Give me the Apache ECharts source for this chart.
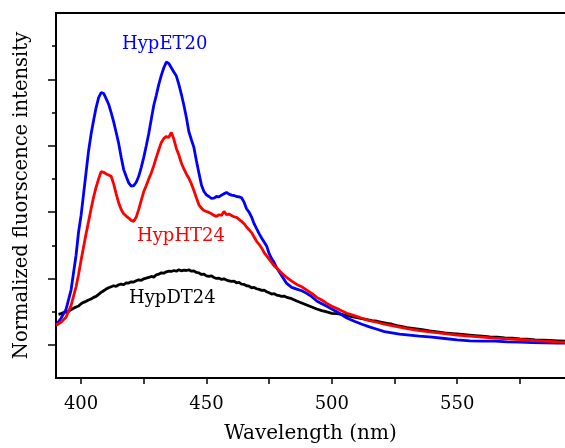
<!DOCTYPE html>
<html>
<head>
<meta charset="utf-8">
<script src="https://cdn.jsdelivr.net/npm/echarts@6/dist/echarts.min.js"></script>
<style>
html,body{margin:0;padding:0;background:#fff;}
#c{width:565px;height:448px;}
</style>
</head>
<body>
<div id="c"></div>
<script>
// ---- data ----
var blueWl = [390,392,394,396,398,399,400,401,402,403,404,405,406,407,408,409,410,411,412,413,414,415,416,417,418,419,420,421,422,423,424,425,426,427,428,429,430,431,432,433,434,435,436,437,438,439,440,441,442,443,444,445,446,447,448,449,450,451,452,453,454,455,456,457,458,459,460,461,462,463,464,465,466,467,468,469,470,471,472,473,474,475,476,477,478,479,480,482,484,486,488,490,492,494,496,498,500,503,506,509,512,515,518,521,524,527,530,535,540,545,550,555,560,565,570,575,580,585,590,593];
var blueVal = [0.059,0.080,0.107,0.165,0.270,0.340,0.390,0.455,0.520,0.585,0.635,0.677,0.715,0.745,0.760,0.758,0.742,0.725,0.700,0.672,0.640,0.607,0.565,0.528,0.507,0.488,0.478,0.480,0.490,0.508,0.535,0.565,0.600,0.637,0.680,0.722,0.752,0.785,0.812,0.835,0.852,0.848,0.835,0.822,0.810,0.785,0.755,0.722,0.685,0.642,0.618,0.595,0.555,0.518,0.482,0.462,0.452,0.447,0.441,0.442,0.447,0.446,0.451,0.455,0.459,0.454,0.451,0.450,0.447,0.446,0.443,0.430,0.410,0.400,0.385,0.365,0.350,0.335,0.322,0.310,0.298,0.275,0.260,0.248,0.232,0.220,0.208,0.185,0.173,0.168,0.163,0.155,0.145,0.132,0.124,0.116,0.108,0.095,0.081,0.071,0.062,0.054,0.047,0.040,0.036,0.032,0.030,0.026,0.023,0.019,0.015,0.012,0.011,0.011,0.009,0.008,0.007,0.006,0.005,0.005];

var redWl = blueWl;
var redVal = [0.059,0.068,0.083,0.118,0.175,0.212,0.255,0.295,0.335,0.372,0.410,0.445,0.475,0.500,0.522,0.520,0.515,0.512,0.508,0.485,0.455,0.428,0.408,0.395,0.388,0.382,0.375,0.372,0.385,0.408,0.435,0.462,0.480,0.500,0.518,0.540,0.565,0.588,0.610,0.622,0.628,0.625,0.640,0.620,0.592,0.572,0.548,0.530,0.515,0.502,0.485,0.465,0.443,0.422,0.412,0.405,0.402,0.399,0.395,0.390,0.387,0.392,0.390,0.402,0.392,0.394,0.390,0.386,0.384,0.378,0.372,0.365,0.355,0.347,0.338,0.325,0.312,0.303,0.292,0.278,0.268,0.258,0.248,0.238,0.232,0.224,0.216,0.203,0.192,0.182,0.175,0.165,0.155,0.143,0.135,0.125,0.116,0.106,0.095,0.088,0.080,0.073,0.068,0.062,0.058,0.053,0.049,0.043,0.038,0.034,0.029,0.026,0.023,0.020,0.018,0.016,0.013,0.011,0.009,0.008];

var blackWl = [391,392,393,394,395,396,397,398,399,400,401,402,403,404,405,406,407,408,409,410,411,412,413,414,415,416,417,418,419,420,421,422,423,424,425,426,427,428,429,430,431,432,433,434,435,436,437,438,439,440,441,442,443,444,445,446,447,448,449,450,451,452,453,454,455,456,457,458,459,460,461,462,463,464,465,466,467,468,469,470,471,472,473,474,475,476,477,478,479,480,481,482,484,486,488,490,492,494,496,498,500,502,504,506,508,510,512,514,516,518,520,522,524,526,528,530,533,536,539,542,545,548,551,554,557,560,563,566,569,572,575,578,581,584,587,590,593];
var blackVal = [0.092,0.094,0.097,0.099,0.101,0.106,0.110,0.114,0.117,0.124,0.128,0.131,0.135,0.138,0.143,0.146,0.152,0.158,0.163,0.168,0.172,0.175,0.178,0.176,0.181,0.183,0.181,0.187,0.186,0.190,0.189,0.193,0.196,0.194,0.199,0.201,0.203,0.206,0.204,0.211,0.213,0.217,0.216,0.220,0.222,0.221,0.224,0.222,0.226,0.223,0.225,0.224,0.226,0.222,0.223,0.218,0.217,0.212,0.213,0.208,0.206,0.208,0.203,0.200,0.201,0.197,0.199,0.195,0.193,0.191,0.192,0.187,0.188,0.183,0.182,0.178,0.177,0.172,0.173,0.169,0.167,0.164,0.165,0.160,0.157,0.153,0.154,0.150,0.148,0.146,0.147,0.143,0.139,0.132,0.126,0.120,0.114,0.108,0.103,0.099,0.095,0.094,0.092,0.088,0.085,0.082,0.079,0.076,0.073,0.071,0.068,0.065,0.062,0.058,0.055,0.052,0.049,0.046,0.042,0.039,0.036,0.034,0.032,0.030,0.028,0.026,0.024,0.023,0.021,0.020,0.018,0.017,0.015,0.014,0.013,0.012,0.011];

var xMajorTicks = [400,425,450,475,500,525,550,575];
var xLabels = [400,450,500,550];
var yMajorTicks = [0,0.2,0.4,0.6,0.8];
var yMinorTicks = [0.1,0.3,0.5,0.7,0.9];
var seriesNames = ['HypDT24','HypET20','HypHT24'];

function pairs(w, v){ return w.map(function(x,i){ return [x, v[i]]; }); }

var FONT = 'DejaVu Serif';
var chart = echarts.init(document.getElementById('c'), null, {renderer:'canvas'});
var axisLineStyle = {color:'#000', width:2};
chart.setOption({
  animation:false,
  backgroundColor:'#fff',
  grid:{left:56, top:13, right:0, bottom:70, containLabel:false, outerBoundsMode:'none'},
  xAxis:[{
    type:'value', min:390, max:593, position:'bottom',
    axisLine:{show:true, onZero:false, lineStyle:axisLineStyle},
    axisTick:{show:true, inside:false, length:6, lineStyle:{color:'#000', width:1.5}, customValues:xMajorTicks},
    axisLabel:{show:true, margin:17, fontFamily:FONT, fontSize:18, color:'#000', customValues:xLabels},
    splitLine:{show:false},
    name:'Wavelength (nm)', nameLocation:'middle', nameGap:46,
    nameTextStyle:{fontFamily:FONT, fontSize:20, color:'#000'}
  },{
    type:'value', min:390, max:593, position:'top',
    axisLine:{show:true, onZero:false, lineStyle:axisLineStyle},
    axisTick:{show:false}, axisLabel:{show:false}, splitLine:{show:false}
  }],
  yAxis:[{
    type:'value', min:-0.1, max:1.0, position:'left',
    axisLine:{show:true, onZero:false, lineStyle:axisLineStyle},
    axisTick:{show:true, inside:false, length:8, lineStyle:{color:'#000', width:1.5}, customValues:yMajorTicks},
    axisLabel:{show:false}, splitLine:{show:false},
    name:'Normalized fluorscence intensity', nameLocation:'middle', nameGap:24, nameRotate:90,
    nameTextStyle:{fontFamily:FONT, fontSize:19.5, color:'#000'}
  },{
    type:'value', min:-0.1, max:1.0, position:'left',
    axisLine:{show:false},
    axisTick:{show:true, inside:false, length:4, lineStyle:{color:'#000', width:1.5}, customValues:yMinorTicks},
    axisLabel:{show:false}, splitLine:{show:false}
  }],
  series:[
    {name:seriesNames[0], type:'line', data:pairs(blackWl, blackVal), showSymbol:false, symbol:'none', lineStyle:{color:'#000000', width:2.8}, itemStyle:{color:'#000'}, z:2},
    {name:seriesNames[1], type:'line', data:pairs(blueWl, blueVal), showSymbol:false, symbol:'none', lineStyle:{color:'#0000ff', width:2.8}, itemStyle:{color:'#00f'}, z:3},
    {name:seriesNames[2], type:'line', data:pairs(redWl, redVal), showSymbol:false, symbol:'none', lineStyle:{color:'#ff0000', width:2.8}, itemStyle:{color:'#f00'}, z:4}
  ],
  graphic:[
    {type:'text', left:122, top:35, style:{text:seriesNames[1], fill:'#0000ff', font:'18px "DejaVu Serif"'}},
    {type:'text', left:137, top:227, style:{text:seriesNames[2], fill:'#ff0000', font:'18px "DejaVu Serif"'}},
    {type:'text', left:129, top:289, style:{text:seriesNames[0], fill:'#000000', font:'18px "DejaVu Serif"'}}
  ]
});
</script>
</body>
</html>
